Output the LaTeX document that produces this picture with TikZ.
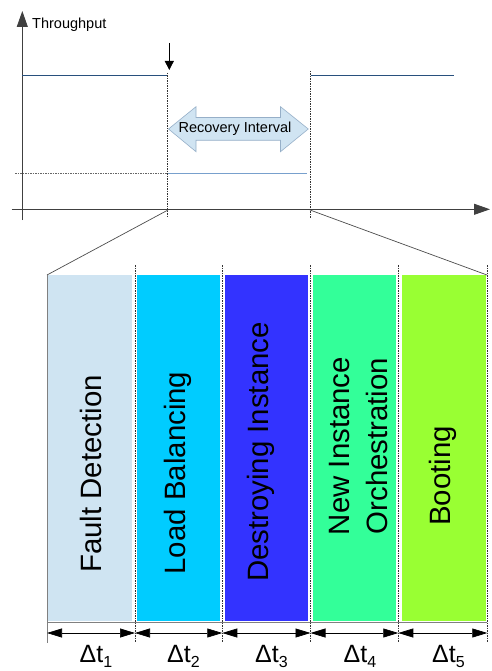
\documentclass[tikz,border=0pt]{standalone}
\usepackage{fontspec}
\setmainfont{Liberation Sans}
\usetikzlibrary{arrows.meta}
\definecolor{hiline}{RGB}{40,80,125}
\definecolor{loline}{RGB}{120,160,205}
\definecolor{arrfill}{RGB}{208,228,242}
\definecolor{arrdraw}{RGB}{150,175,200}
\definecolor{cA}{RGB}{207,228,242}
\definecolor{cB}{RGB}{0,204,255}
\definecolor{cC}{RGB}{51,51,255}
\definecolor{cD}{RGB}{51,255,153}
\definecolor{cE}{RGB}{153,255,51}
\tikzset{
  axis/.style={line width=0.8pt, draw=black!75, -{Triangle[length=16pt,width=11pt]}},
  sep/.style={draw=black!80, line width=0.6pt, dash pattern=on 1.5pt off 1pt},
  funnel/.style={draw=black!70, line width=0.7pt},
  barbox/.style={draw=none, minimum width=#1, minimum height=346pt, inner sep=0pt},
  barlabel/.style={rotate=90, font=\fontsize{29.4}{38.4}\selectfont, align=center, inner sep=0pt},
  dim/.style={line width=0.7pt, {Triangle[length=15pt,width=9pt]}-{Triangle[length=15pt,width=9pt]}},
  dtlabel/.style={font=\fontsize{25}{28}\selectfont, inner sep=0pt, anchor=base},
  small/.style={font=\fontsize{14.5}{17}\selectfont, inner sep=0pt}
}
\newcommand{\dtsub}[1]{Δt\raisebox{-0.22em}{\fontsize{16}{18}\selectfont #1}}
\begin{document}
\begin{tikzpicture}[x=1pt,y=-1pt]
\useasboundingbox (0,0) rectangle (491,671);
% axes
\coordinate (yb) at (22.3,220);
\coordinate (yt) at (22.3,11);
\coordinate (xl) at (11.7,209.3);
\coordinate (xr) at (490,209.3);
\draw[axis] (yb) -- (yt);
\draw[axis] (xl) -- (xr);
\node[small, anchor=west] (tp) at (32,25) {Throughput};
% throughput levels
\coordinate (h1a) at (22.3,75.3);
\coordinate (h1b) at (166.7,75.3);
\coordinate (h2a) at (310.7,75.3);
\coordinate (h2b) at (454,75.3);
\draw[hiline, line width=0.8pt] (h1a) -- (h1b);
\draw[hiline, line width=0.8pt] (h2a) -- (h2b);
\coordinate (la) at (15,173.7);
\coordinate (lb) at (168,173.7);
\coordinate (lc) at (306.7,173.7);
\draw[sep, draw=black!60] (la) -- (lb);
\draw[loline, line width=1pt] (lb) -- (lc);
% failure arrow
\coordinate (fa) at (169.3,43);
\coordinate (fb) at (169.3,70);
\draw[line width=0.8pt, -{Triangle[length=9pt,width=9pt]}] (fa) -- (fb);
% vertical dashed markers
\coordinate (v1t) at (167.7,73);
\coordinate (v1b) at (167.7,218);
\coordinate (v2t) at (310,71);
\coordinate (v2b) at (310,218);
\draw[sep] (v1t) -- (v1b);
\draw[sep] (v2t) -- (v2b);
% recovery interval double arrow
\draw[fill=arrfill, draw=arrdraw, line width=0.6pt]
  (168.5,129) -- (196,106.7) -- (196,117.5) -- (280.5,117.5) -- (280.5,106.7)
  -- (308.3,129) -- (280.5,151.7) -- (280.5,140.3) -- (196,140.3) -- (196,151.7) -- cycle;
\node[small] (ri) at (235,128.5) {Recovery Interval};
% funnel lines
\coordinate (f1a) at (168,210);
\coordinate (f1b) at (47,275);
\coordinate (f2a) at (310,210);
\coordinate (f2b) at (487,275);
\draw[funnel] (f1a) -- (f1b);
\draw[funnel] (f2a) -- (f2b);
% bars
\node[barbox=84.5pt, fill=cA] (b1) at (89.75,448) {};
\node[barbox=83pt, fill=cB] (b2) at (178.5,448) {};
\node[barbox=83.3pt, fill=cC] (b3) at (266.65,448) {};
\node[barbox=82.7pt, fill=cD] (b4) at (354.65,448) {};
\node[barbox=84pt, fill=cE] (b5) at (443.7,448) {};
\node[barlabel] (l1) at (91,474) {Fault Detection};
\node[barlabel] (l2) at (178,473) {Load Balancing};
\node[barlabel] (l3) at (261,452) {Destroying Instance};
\node[barlabel] (l4) at (358.5,446) {New Instance\\Orchestration};
\node[barlabel] (l5) at (443,476) {Booting};
% base lines
\coordinate (e0t) at (47,275);
\coordinate (e0b) at (47,643);
\coordinate (gl) at (47,622.5);
\coordinate (gr) at (487,622.5);
\draw[draw=black!50, line width=0.8pt] (e0t) -- (e0b);
\draw[draw=black!50, line width=0.8pt] (gl) -- (gr);
% separators
\foreach \i/\x in {1/135,2/222.3,3/310.5,4/398.3,5/487.3}{
  \coordinate (s\i t) at (\x,265);
  \coordinate (s\i b) at (\x,642);
  \draw[sep] (s\i t) -- (s\i b);
}
% dimension arrows
\coordinate (d0) at (47,633);
\coordinate (d1) at (135,633);
\coordinate (d2) at (222.3,633);
\coordinate (d3) at (310.5,633);
\coordinate (d4) at (398.3,633);
\coordinate (d5) at (487.3,633);
\draw[dim] (d0) -- (d1);
\draw[dim] (d1) -- (d2);
\draw[dim] (d2) -- (d3);
\draw[dim] (d3) -- (d4);
\draw[dim] (d4) -- (d5);
\node[dtlabel] (t1) at (96,662) {\dtsub{1}};
\node[dtlabel] (t2) at (183.5,662) {\dtsub{2}};
\node[dtlabel] (t3) at (271.5,662) {\dtsub{3}};
\node[dtlabel] (t4) at (360,662) {\dtsub{4}};
\node[dtlabel] (t5) at (448.5,662) {\dtsub{5}};
\end{tikzpicture}
\end{document}
